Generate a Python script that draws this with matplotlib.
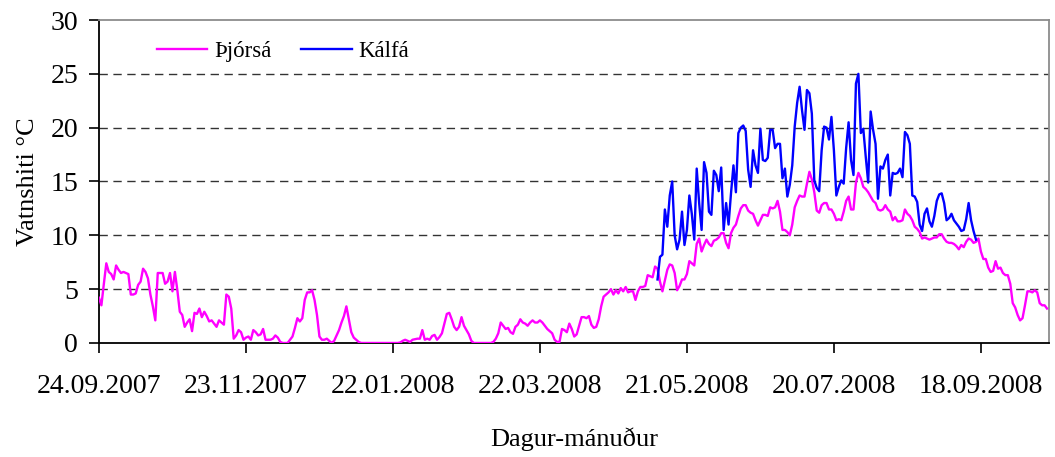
import numpy as np
import pandas as pd
import matplotlib
matplotlib.use("Agg")
import matplotlib.pyplot as plt

# Daglegur vatnshiti, Þjórsá frá 24.09.2007, Kálfá frá 09.05.2008
thjorsa_start = "2007-09-24"
kalfa_start = "2008-05-09"

thjorsa = [
    4.2, 3.5, 5.5, 7.4, 6.6, 6.4, 5.9, 7.2, 6.8, 6.5,
    6.6, 6.5, 6.4, 4.5, 4.5, 4.6, 5.4, 5.7, 6.9, 6.6,
    6.0, 4.5, 3.4, 2.1, 6.5, 6.5, 6.5, 5.5, 5.7, 6.5,
    4.8, 6.6, 4.9, 2.9, 2.6, 1.5, 1.9, 2.2, 1.1, 2.8,
    2.7, 3.2, 2.4, 2.9, 2.5, 2.0, 2.1, 1.8, 1.5, 2.1,
    1.9, 1.7, 4.5, 4.3, 3.2, 0.4, 0.7, 1.2, 1.0, 0.3,
    0.5, 0.6, 0.3, 1.2, 1.0, 0.7, 0.8, 1.3, 0.3, 0.3,
    0.3, 0.4, 0.7, 0.5, 0.1, 0.0, 0.0, 0.0, 0.3, 0.6,
    1.4, 2.3, 2.0, 2.3, 4.0, 4.7, 4.7, 4.9, 4.0, 2.6,
    0.6, 0.3, 0.3, 0.4, 0.2, 0.0, 0.2, 0.7, 1.2, 1.9,
    2.5, 3.4, 2.2, 1.0, 0.5, 0.3, 0.1, 0.0, 0.0, 0.0,
    0.0, 0.0, 0.0, 0.0, 0.0, 0.0, 0.0, 0.0, 0.0, 0.0,
    0.0, 0.0, 0.0, 0.05, 0.2, 0.3, 0.2, 0.1, 0.3, 0.35,
    0.4, 0.4, 1.2, 0.3, 0.4, 0.3, 0.65, 0.75, 0.3, 0.55,
    0.9, 1.8, 2.7, 2.8, 2.2, 1.5, 1.2, 1.5, 2.4, 1.6,
    1.2, 0.8, 0.2, 0.0, 0.0, 0.0, 0.0, 0.0, 0.0, 0.0,
    0.0, 0.1, 0.4, 0.9, 1.9, 1.6, 1.3, 1.4, 1.0, 0.85,
    1.5, 1.7, 2.2, 1.9, 1.8, 1.6, 1.9, 2.1, 1.9, 1.9,
    2.1, 1.9, 1.6, 1.3, 1.1, 0.9, 0.3, 0.1, 0.1, 1.3,
    1.2, 1.0, 1.8, 1.3, 0.6, 0.8, 1.6, 2.4, 2.4, 2.3,
    2.5, 1.7, 1.4, 1.5, 2.2, 3.4, 4.3, 4.5, 4.7, 5.0,
    4.5, 4.9, 4.6, 5.1, 4.8, 5.2, 4.7, 4.8, 4.8, 4.0,
    4.8, 5.2, 5.2, 5.3, 6.3, 6.2, 6.1, 7.1, 6.9, 5.7,
    4.8, 5.8, 6.8, 7.3, 7.2, 6.5, 4.9, 5.3, 5.9, 5.9,
    6.4, 7.6, 7.4, 7.2, 9.2, 9.7, 8.5, 9.1, 9.6, 9.2,
    9.0, 9.5, 9.6, 9.8, 10.2, 10.2, 9.3, 8.8, 10.2, 10.7,
    11.0, 11.8, 12.5, 12.8, 12.8, 12.3, 12.1, 12.0, 11.4, 10.9,
    11.4, 11.9, 11.9, 11.8, 12.6, 12.5, 12.6, 13.2, 12.2, 10.5,
    10.5, 10.3, 10.0, 11.0, 12.6, 13.2, 13.7, 13.6, 13.6, 14.8,
    15.9, 15.2, 14.0, 12.3, 12.1, 12.8, 13.0, 13.0, 12.4, 12.4,
    12.0, 11.4, 11.5, 11.4, 12.2, 13.2, 13.6, 12.4, 12.4, 14.9,
    15.8, 15.3, 14.5, 14.3, 14.0, 13.6, 13.2, 13.0, 12.4, 12.3,
    12.4, 12.8, 12.4, 12.2, 11.4, 11.7, 11.3, 11.3, 11.4, 12.4,
    12.0, 11.8, 11.4, 10.8, 10.6, 10.3, 9.7, 9.8, 9.7, 9.6,
    9.7, 9.8, 9.8, 10.1, 10.1, 9.7, 9.4, 9.3, 9.3, 9.2,
    9.0, 8.7, 9.1, 8.9, 9.4, 9.7, 9.6, 9.3, 9.4, 9.7,
    8.5, 7.8, 7.8, 7.0, 6.6, 6.7, 7.6, 6.9, 7.0, 6.5,
    6.3, 6.3, 5.5, 3.7, 3.3, 2.6, 2.1, 2.3, 3.5, 4.8,
    4.8, 4.7, 4.9, 4.7, 3.7, 3.5, 3.5, 3.2,
]

kalfa = [
    5.9, 8.0, 8.2, 12.4, 10.8, 13.7, 15.0, 10.0, 8.7, 9.6,
    12.2, 9.1, 10.5, 13.7, 12.0, 9.6, 16.2, 13.0, 10.5, 16.8,
    15.8, 12.2, 11.9, 16.0, 15.6, 14.1, 16.3, 10.5, 13.0, 11.0,
    13.9, 16.5, 14.0, 19.5, 20.0, 20.2, 19.7, 16.1, 14.5, 17.9,
    16.5, 15.8, 19.9, 17.0, 16.9, 17.2, 19.8, 19.8, 18.1, 18.5,
    18.5, 15.3, 16.2, 13.6, 14.7, 16.5, 20.1, 22.3, 23.8, 21.6,
    19.8, 23.5, 23.2, 21.3, 15.1, 14.4, 14.1, 17.9, 20.1, 20.0,
    18.9, 21.0, 17.9, 13.7, 14.5, 15.1, 14.8, 18.1, 20.5, 17.0,
    15.6, 24.1, 25.0, 19.5, 19.9, 17.3, 14.9, 21.5, 19.8, 18.5,
    13.4, 16.4, 16.2, 17.0, 17.5, 13.7, 15.8, 15.7, 15.8, 16.2,
    15.4, 19.6, 19.3, 18.5, 13.7, 13.6, 13.1, 11.0, 10.4, 12.0,
    12.5, 11.3, 10.8, 11.8, 13.2, 13.8, 13.9, 13.0, 11.4, 11.6,
    12.0, 11.4, 11.1, 10.8, 10.4, 10.5, 11.5, 13.0, 11.4, 10.4,
    9.6,
]

tick_labels = ["24.09.2007", "23.11.2007", "22.01.2008", "22.03.2008",
               "21.05.2008", "20.07.2008", "18.09.2008"]
y_ticks = [0, 5, 10, 15, 20, 25, 30]


def plot_chart(output_path="out.png"):
    plt.rcParams["font.family"] = ["Liberation Serif", "DejaVu Serif"]

    d_thj = pd.date_range(thjorsa_start, periods=len(thjorsa), freq="D")
    d_kal = pd.date_range(kalfa_start, periods=len(kalfa), freq="D")
    ticks = pd.to_datetime(tick_labels, format="%d.%m.%Y")

    fig = plt.figure(figsize=(10.55, 4.57), dpi=100)
    ax = fig.add_axes([0.0938, 0.2495, 0.9005, 0.7067])

    # gridlínur
    for v in y_ticks[1:-1]:
        ax.axhline(v, color="#333333", lw=1.0, ls=(0, (6, 4)), zorder=1)

    ax.plot(d_thj, thjorsa, color="#FF00FF", lw=1.7, label="Þjórsá", zorder=3)
    ax.plot(d_kal, kalfa, color="#0000FF", lw=1.7, label="Kálfá", zorder=4)

    ax.set_ylim(0, 30)
    ax.set_xlim(ticks[0], ticks[0] + pd.Timedelta(days=387.8))
    ax.set_yticks(y_ticks)
    ax.set_xticks(ticks)
    ax.set_xticklabels(tick_labels)

    for s in ["left", "bottom"]:
        ax.spines[s].set_color("black")
        ax.spines[s].set_linewidth(1.3)
    for s in ["top", "right"]:
        ax.spines[s].set_color("#8c8c8c")
        ax.spines[s].set_linewidth(1.3)

    ax.tick_params(axis="both", direction="out", length=7, width=1.2, labelsize=20)
    ax.tick_params(axis="x", pad=15)
    ax.tick_params(axis="y", pad=8)

    ax.set_ylabel("Vatnshiti °C", fontsize=19, labelpad=8)
    ax.set_xlabel("Dagur-mánuður", fontsize=19, labelpad=21)

    ax.legend(loc="upper left", bbox_to_anchor=(0.039, 1.0), ncol=2, frameon=False,
              fontsize=16.5, handlelength=2.2, handletextpad=0.3, columnspacing=1.3)

    fig.savefig(output_path, dpi=100)
    plt.close(fig)


def main():
    plot_chart()


if __name__ == "__main__":
    main()
